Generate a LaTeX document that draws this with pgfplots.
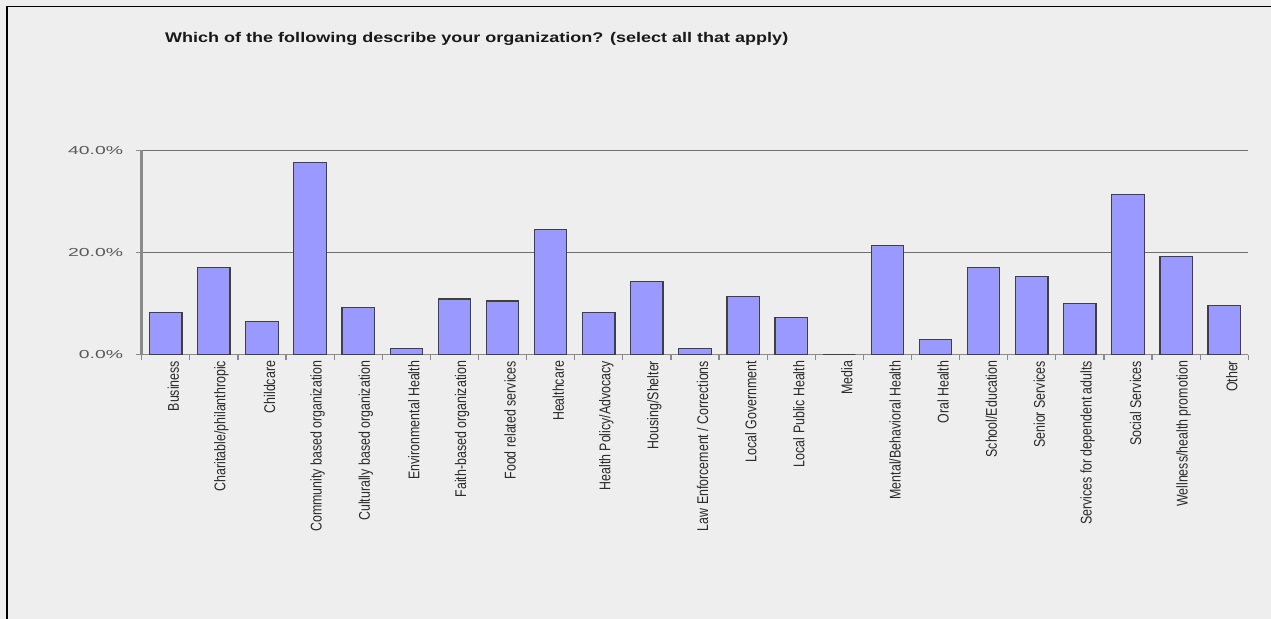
\documentclass[border=0pt]{standalone}
\usepackage{pgfplots}
\pgfplotsset{compat=1.18}
\usepackage{pgfplotstable}
\usepackage{graphicx}
\usepackage{fontspec}
\setmainfont{Liberation Sans}

\definecolor{bg}{HTML}{EEEEEE}
\definecolor{barfill}{HTML}{9999FF}
\definecolor{baredge}{HTML}{404040}
\definecolor{gridc}{HTML}{6E6E6E}
\definecolor{axisc}{HTML}{8A8A8A}
\definecolor{ylabc}{HTML}{5A5A5A}
\definecolor{xlabc}{HTML}{2A2A2A}

% share of respondents per organization type (%)
\pgfplotstableread{
idx val
0  8.3
1  17.0
2  6.5
3  37.6
4  9.2
5  1.25
6  10.9
7  10.5
8  24.5
9  8.2
10 14.4
11 1.25
12 11.4
13 7.3
14 0
15 21.4
16 3.0
17 17.0
18 15.3
19 10.0
20 31.4
21 19.2
22 9.6
}\orgdata

\newcommand\xl[1]{\scalebox{0.80}[1]{#1}}
\newcommand\yl[1]{\scalebox{1.67}[1]{#1}}

\begin{document}
\begin{tikzpicture}
\useasboundingbox (0bp,0bp) rectangle (1271bp,619bp);
\fill[bg] (0bp,0bp) rectangle (1271bp,619bp);
\draw[black, line width=1.8bp] (7bp,0bp) -- (7bp,612.5bp) -- (1271bp,612.5bp);
\node[anchor=base west, inner sep=0pt, text=black!90] at (165bp,576.7bp)
  {\resizebox{623bp}{\height}{\fontsize{14bp}{16bp}\selectfont\bfseries Which of the following describe your organization? (select all that apply)}};

\begin{axis}[
  at={(141.7bp,264.3bp)}, anchor=south west,
  scale only axis, width=1106.6bp, height=204.4bp,
  xmin=-0.5, xmax=22.5, ymin=0, ymax=40,
  ybar, bar width=32.4bp,
  axis x line*=bottom, axis y line*=left,
  axis line style={-},
  x axis line style={axisc, line width=1.4bp},
  y axis line style={axisc, line width=2.5bp},
  ymajorgrids, major grid style={gridc, line width=1bp},
  tick align=outside,
  major tick length=6bp, minor tick length=5bp,
  tick style={axisc, line width=1.2bp},
  major x tick style={draw=none},
  xtick={0,...,22},
  minor xtick={-0.5,0.5,...,22.5},
  ytick={0,20,40},
  yticklabels={\yl{0.0\%},\yl{20.0\%},\yl{40.0\%}},
  yticklabel style={anchor=east, inner sep=0pt, xshift=-12.4bp,
    text=ylabc, font=\fontsize{11.6bp}{13bp}\selectfont},
  xticklabels={\xl{Business},\xl{Charitable/philanthropic},\xl{Childcare},
    \xl{Community based organization},\xl{Culturally based organization},
    \xl{Environmental Health},\xl{Faith-based organization},
    \xl{Food related services},\xl{Healthcare},\xl{Health Policy/Advocacy},
    \xl{Housing/Shelter},\xl{Law Enforcement / Corrections},
    \xl{Local Government},\xl{Local Public Health},\xl{Media},
    \xl{Mental/Behavioral Health},\xl{Oral Health},\xl{School/Education},
    \xl{Senior Services},\xl{Services for dependent adults},
    \xl{Social Services},\xl{Wellness/health promotion},\xl{Other}},
  xticklabel style={rotate=90, anchor=east, inner sep=0pt, yshift=-7.6bp,
    text=xlabc, font=\fontsize{15.5bp}{17bp}\selectfont},
]
\addplot[fill=barfill, draw=baredge, line width=1.2bp] table[x=idx, y=val] {\orgdata};
\end{axis}
\end{tikzpicture}
\end{document}
